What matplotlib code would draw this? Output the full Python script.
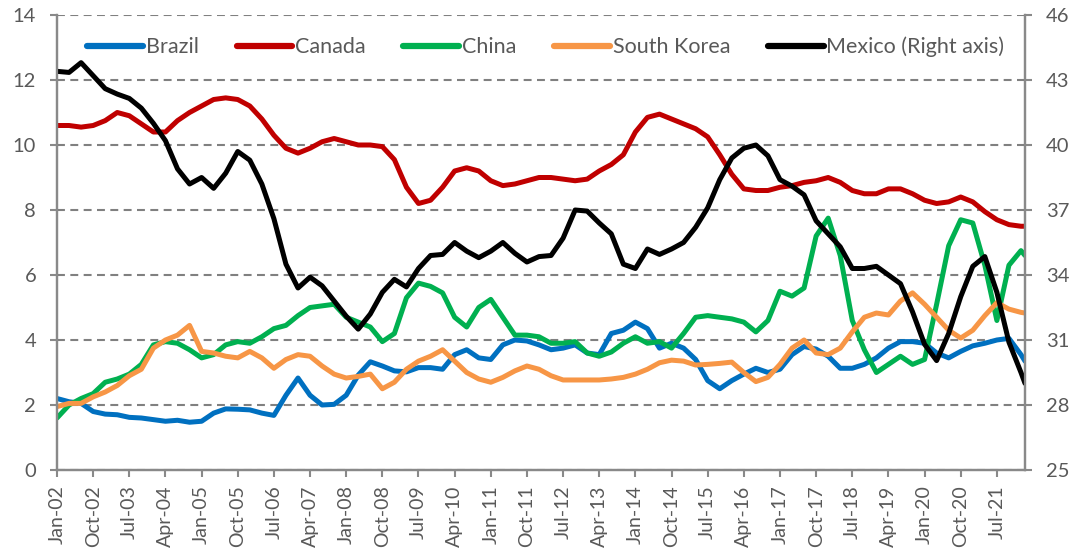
import matplotlib
matplotlib.use("Agg")
import matplotlib.pyplot as plt
import numpy as np

plt.rcParams['font.family'] = ['Lato', 'DejaVu Sans']

# Month index from Jan-2002: quarterly observations plus the final month (Feb-22)
month_index = np.append(np.arange(0, 241, 3), 241)

tick_labels = ["Jan-02", "Oct-02", "Jul-03", "Apr-04", "Jan-05", "Oct-05", "Jul-06",
               "Apr-07", "Jan-08", "Oct-08", "Jul-09", "Apr-10", "Jan-11", "Oct-11",
               "Jul-12", "Apr-13", "Jan-14", "Oct-14", "Jul-15", "Apr-16", "Jan-17",
               "Oct-17", "Jul-18", "Apr-19", "Jan-20", "Oct-20", "Jul-21"]

brazil = [2.2, 2.1, 2.05, 1.8,
          1.72, 1.7, 1.62, 1.6,
          1.55, 1.5, 1.53, 1.47,
          1.5, 1.75, 1.88, 1.87,
          1.85, 1.75, 1.68, 2.3,
          2.83, 2.3, 2.0, 2.02,
          2.3, 2.92, 3.33, 3.2,
          3.05, 3.02, 3.15, 3.15,
          3.1, 3.55, 3.7, 3.45,
          3.4, 3.85, 4.0, 3.97,
          3.85, 3.7, 3.75, 3.85,
          3.6, 3.55, 4.2, 4.3,
          4.55, 4.35, 3.75, 3.9,
          3.75, 3.4, 2.75, 2.5,
          2.75, 2.95, 3.13, 3.0,
          3.1, 3.55, 3.8, 3.72,
          3.5, 3.13, 3.13, 3.25,
          3.45, 3.75, 3.95, 3.95,
          3.9, 3.6, 3.45, 3.65,
          3.82, 3.9, 4.0, 4.05,
          3.55, 3.35]

canada = [10.6, 10.6, 10.55, 10.6,
          10.75, 11.0, 10.9, 10.65,
          10.4, 10.4, 10.75, 11.0,
          11.2, 11.4, 11.45, 11.4,
          11.2, 10.8, 10.3, 9.9,
          9.75, 9.9, 10.1, 10.2,
          10.1, 10.0, 10.0, 9.95,
          9.55, 8.7, 8.2, 8.3,
          8.7, 9.2, 9.3, 9.2,
          8.9, 8.75, 8.8, 8.9,
          9.0, 9.0, 8.95, 8.9,
          8.95, 9.2, 9.4, 9.7,
          10.4, 10.85, 10.95, 10.8,
          10.65, 10.5, 10.25, 9.7,
          9.1, 8.65, 8.6, 8.6,
          8.7, 8.75, 8.85, 8.9,
          9.0, 8.85, 8.6, 8.5,
          8.5, 8.65, 8.65, 8.5,
          8.3, 8.2, 8.25, 8.4,
          8.25, 7.95, 7.7, 7.55,
          7.5, 7.5]

china = [1.6, 2.0, 2.2, 2.35,
         2.7, 2.8, 2.95, 3.25,
         3.85, 3.95, 3.9, 3.7,
         3.45, 3.55, 3.85, 3.95,
         3.9, 4.1, 4.35, 4.45,
         4.75, 5.0, 5.05, 5.1,
         4.7, 4.55, 4.4, 3.95,
         4.2, 5.3, 5.75, 5.65,
         5.45, 4.7, 4.4, 5.0,
         5.25, 4.7, 4.15, 4.15,
         4.1, 3.9, 3.9, 3.95,
         3.6, 3.5, 3.63, 3.9,
         4.1, 3.9, 3.95, 3.75,
         4.2, 4.7, 4.75, 4.7,
         4.65, 4.55, 4.25, 4.6,
         5.5, 5.35, 5.6, 7.2,
         7.75, 6.6, 4.6, 3.7,
         3.0, 3.25, 3.5, 3.25,
         3.4, 5.1, 6.9, 7.7,
         7.6, 6.3, 4.6, 6.3,
         6.75, 6.6]

south_korea = [1.95, 2.05, 2.05, 2.25,
               2.4, 2.6, 2.9, 3.1,
               3.75, 4.0, 4.15, 4.45,
               3.65, 3.6, 3.5, 3.45,
               3.65, 3.45, 3.13, 3.4,
               3.55, 3.5, 3.2, 2.95,
               2.83, 2.88, 2.95, 2.5,
               2.7, 3.1, 3.35, 3.5,
               3.7, 3.35, 3.0, 2.8,
               2.7, 2.85, 3.05, 3.2,
               3.1, 2.9, 2.77, 2.77,
               2.77, 2.77, 2.8, 2.85,
               2.95, 3.1, 3.3, 3.38,
               3.35, 3.23, 3.25, 3.28,
               3.32, 3.0, 2.72, 2.85,
               3.25, 3.75, 4.0, 3.6,
               3.55, 3.75, 4.25, 4.7,
               4.83, 4.77, 5.2, 5.45,
               5.1, 4.7, 4.3, 4.06,
               4.3, 4.75, 5.15, 4.95,
               4.85, 4.83]

mexico = [43.4, 43.35, 43.8, 43.2,
          42.6, 42.35, 42.15, 41.7,
          41.0, 40.2, 38.9, 38.2,
          38.5, 38.0, 38.7, 39.7,
          39.3, 38.2, 36.6, 34.5,
          33.4, 33.9, 33.5, 32.8,
          32.1, 31.5, 32.2, 33.2,
          33.8, 33.45, 34.3, 34.9,
          34.95, 35.5, 35.1, 34.8,
          35.1, 35.5, 35.0, 34.6,
          34.85, 34.9, 35.7, 37.0,
          36.95, 36.4, 35.9, 34.5,
          34.3, 35.2, 34.95, 35.2,
          35.5, 36.2, 37.1, 38.4,
          39.4, 39.85, 40.0, 39.5,
          38.4, 38.1, 37.7, 36.5,
          35.9, 35.3, 34.3, 34.3,
          34.4, 34.0, 33.6, 32.3,
          30.8, 30.05, 31.3, 33.0,
          34.4, 34.85, 33.2, 30.9,
          29.5, 29.0]

left_series = [("Brazil", brazil, "#0070C0"),
               ("Canada", canada, "#C00000"),
               ("China", china, "#00B050"),
               ("South Korea", south_korea, "#F79646")]

text_color = "#595959"
axis_color = "#898989"
grid_color = "#808080"

fig = plt.figure(figsize=(10.83, 5.57), dpi=100)
ax = fig.add_axes([57 / 1083, 1 - 470 / 557, (1025 - 57) / 1083, (470 - 15) / 557])
ax2 = ax.twinx()

handles = []
for name, values, color in left_series:
    h, = ax.plot(month_index, values, color=color, lw=3.6, label=name,
                 solid_capstyle="round", solid_joinstyle="round")
    handles.append(h)

hm, = ax2.plot(month_index, mexico, color="black", lw=3.6, label="Mexico (Right axis)",
               solid_capstyle="round", solid_joinstyle="round")
handles.append(hm)

ax.set_xlim(0, 241)
ax.set_ylim(0, 14)
ax.set_yticks(np.arange(0, 15, 2))
ax2.set_ylim(25, 46)
ax2.set_yticks(np.arange(25, 47, 3))

ax.set_xticks(np.arange(0, 241, 9)[:len(tick_labels)])
ax.set_xticklabels(tick_labels, rotation=90)

# horizontal dashed grid
ax.set_axisbelow(True)
ax.yaxis.grid(True, color=grid_color, lw=1.5, linestyle=(0, (3.8, 2.6)))
ax.xaxis.grid(False)

for a in (ax, ax2):
    a.spines["top"].set_visible(False)
    for side in ("left", "right", "bottom"):
        a.spines[side].set_color(axis_color)
        a.spines[side].set_linewidth(1.6)
    a.tick_params(axis="both", colors=axis_color, labelcolor=text_color,
                  labelsize=14.5, length=5, width=1.5, direction="out")
ax.tick_params(axis="x", pad=6, labelsize=14)
ax.tick_params(axis="y", pad=10)
ax2.tick_params(axis="y", pad=10)

ax2.set_zorder(ax.get_zorder() + 1)
ax2.patch.set_visible(False)

leg = ax2.legend(handles=handles, loc="center", bbox_to_anchor=(0.505, 0.93),
                 ncol=5, frameon=False, fontsize=15.5, handlelength=2.6,
                 handletextpad=0.12, columnspacing=1.75)
for t in leg.get_texts():
    t.set_color(text_color)
for lh in leg.get_lines():
    lh.set_linewidth(4.5)

fig.savefig("out.png", dpi=100)
